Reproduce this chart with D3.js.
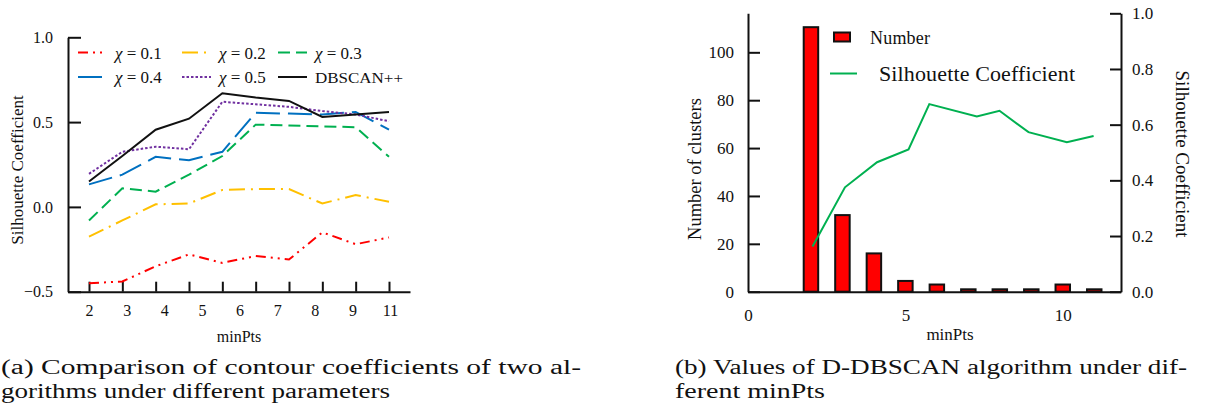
<!DOCTYPE html>
<html>
<head>
<meta charset="utf-8">
<script src="https://cdn.jsdelivr.net/npm/d3@7"></script>
<style>
  html, body { margin: 0; padding: 0; background: #fff; }
  svg { display: block; }
  text { font-family: "Liberation Serif", "Times New Roman", serif; fill: #111; }
</style>
</head>
<body>
<svg id="fig" width="1207" height="416"></svg>
<script>
// ---------- panel (a): silhouette coefficient vs minPts ----------
const minPts = [2, 3, 4, 5, 6, 7, 8, 9, 10, 11];
const minPtsTickLabels = ["2", "3", "4", "5", "6", "7", "8", "9", "11"];
const chi01 = [-0.45, -0.44, -0.35, -0.28, -0.33, -0.29, -0.31, -0.15, -0.22, -0.18];
const chi02 = [-0.175, -0.08, 0.015, 0.02, 0.10, 0.105, 0.105, 0.02, 0.07, 0.03];
const chi03 = [-0.08, 0.11, 0.09, 0.19, 0.30, 0.485, 0.48, 0.475, 0.47, 0.295];
const chi04 = [0.133, 0.19, 0.295, 0.275, 0.325, 0.555, 0.55, 0.545, 0.56, 0.455];
const chi05 = [0.195, 0.325, 0.355, 0.34, 0.62, 0.605, 0.59, 0.565, 0.545, 0.505];
const dbscanPP = [0.15, 0.30, 0.455, 0.52, 0.67, 0.645, 0.625, 0.53, 0.545, 0.56];
const seriesNames = ["\u03c7 = 0.1", "\u03c7 = 0.2", "\u03c7 = 0.3", "\u03c7 = 0.4", "\u03c7 = 0.5", "DBSCAN++"];
const yTicksA = [-0.5, 0.0, 0.5, 1.0];

// ---------- panel (b): D-DBSCAN cluster count and silhouette ----------
const barMinPts = [2, 3, 4, 5, 6, 7, 8, 9, 10, 11];
const clusterCount = [110.5, 32, 16, 4.5, 3, 1, 1, 1, 3, 1];
const silMinPts = [2.05, 3.08, 4.1, 5.1, 5.76, 7.27, 7.99, 8.91, 10.13, 10.98];
const silValue = [0.162, 0.375, 0.465, 0.511, 0.674, 0.629, 0.650, 0.573, 0.537, 0.559];
const yTicksCount = [0, 20, 40, 60, 80, 100];
const yTicksSil = [0.0, 0.2, 0.4, 0.6, 0.8, 1.0];
const xTicksB = [0, 5, 10];

const captionA = ["(a) Comparison of contour coefficients of two al-", "gorithms under different parameters"];
const captionB = ["(b) Values of D-DBSCAN algorithm under dif-", "ferent minPts"];

const svg = d3.select("#fig");
svg.append("rect").attr("width", 1207).attr("height", 416).attr("fill", "#fff");

function styleAxis(g, size) {
  g.select(".domain").attr("stroke", "#111").attr("stroke-width", 2);
  g.selectAll(".tick line").attr("stroke", "#111").attr("stroke-width", 2);
  g.selectAll(".tick text")
    .style("font-family", '"Liberation Serif", serif')
    .style("font-size", size + "px").attr("fill", "#111");
}

// ===== panel (a) =====
const xA = d3.scalePoint().domain(minPts).range([68, 410]).padding(0.63);
const yA = d3.scaleLinear().domain([-0.5, 1.0]).range([291.7, 37.3]);

const gA = svg.append("g");

const yAxisA = gA.append("g").attr("transform", `translate(${xA.range()[0]},0)`)
  .call(d3.axisLeft(yA).tickValues(yTicksA).tickFormat(d3.format(".1f"))
    .tickSizeInner(-13).tickSizeOuter(0).tickPadding(15));
styleAxis(yAxisA, 16);

const xAxisA = gA.append("g").attr("transform", `translate(0,${yA.range()[0]})`)
  .call(d3.axisBottom(xA).tickFormat("").tickSizeInner(-10).tickSizeOuter(0));
styleAxis(xAxisA, 16);

// minPts labels sit on their own evenly spaced positions
const xLabA = d3.scalePoint().domain(minPtsTickLabels).range([89, 390]);
const xLabAxisA = gA.append("g").attr("transform", `translate(0,${yA.range()[0]})`)
  .call(d3.axisBottom(xLabA).tickSize(0).tickPadding(13));
xLabAxisA.select(".domain").remove();
styleAxis(xLabAxisA, 16);

gA.append("text").attr("x", 239).attr("y", 342).attr("text-anchor", "middle")
  .style("font-size", "16px").text("minPts");
gA.append("text").attr("transform", "translate(23,170) rotate(-90)")
  .attr("text-anchor", "middle").style("font-size", "17px").text("Silhouette Coefficient");

const seriesA = [
  { name: seriesNames[0], values: chi01, color: "#FF0000", dash: "10,5,2,5,2,5" },
  { name: seriesNames[1], values: chi02, color: "#FFC000", dash: "16,6,2,6" },
  { name: seriesNames[2], values: chi03, color: "#00B050", dash: "12,6" },
  { name: seriesNames[3], values: chi04, color: "#0070C0", dash: "24,8" },
  { name: seriesNames[4], values: chi05, color: "#7030A0", dash: "2.5,2" },
  { name: seriesNames[5], values: dbscanPP, color: "#111111", dash: null }
];

const lineA = d3.line().x((d, i) => xA(minPts[i])).y(d => yA(d));
gA.selectAll("path.series").data(seriesA).join("path")
  .attr("class", "series")
  .attr("d", s => lineA(s.values))
  .attr("fill", "none")
  .attr("stroke", s => s.color)
  .attr("stroke-width", 2)
  .attr("stroke-dasharray", s => s.dash);

// legend, two rows of three
const legCols = [78, 182, 278];
const legRows = [52.5, 77];
const legA = gA.selectAll("g.leg").data(seriesA).join("g")
  .attr("class", "leg")
  .attr("transform", (s, i) => `translate(${legCols[i % 3]},${legRows[Math.floor(i / 3)]})`);
legA.append("line").attr("x1", 0).attr("x2", 29).attr("y1", 0).attr("y2", 0)
  .attr("stroke", s => s.color).attr("stroke-width", 2)
  .attr("stroke-dasharray", s => s.dash);
legA.each(function (s) {
  const t = d3.select(this).append("text").attr("x", 37).attr("y", 6);
  if (s.name.startsWith("\u03c7")) {
    t.style("font-size", "17px");
    t.append("tspan").style("font-style", "italic").text("\u03c7");
    t.append("tspan").text(s.name.slice(1));
  } else {
    t.style("font-size", "15.5px").attr("textLength", 88).attr("lengthAdjust", "spacingAndGlyphs").text(s.name);
  }
});

// ===== panel (b) =====
const xB = d3.scaleLinear().domain([0, 11.85]).range([748, 1121]);
const yB = d3.scaleLinear().domain([0, 116.3]).range([291.7, 13.3]);
const yS = d3.scaleLinear().domain([0, 1]).range([291.7, 13.3]);

const gB = svg.append("g");

// bars first so the axis line stays on top
const barW = xB(0.46) - xB(0);
gB.selectAll("rect.bar").data(barMinPts).join("rect")
  .attr("class", "bar")
  .attr("x", (d) => xB(d) - barW / 2)
  .attr("width", barW)
  .attr("y", (d, i) => yB(clusterCount[i]))
  .attr("height", (d, i) => yB(0) - yB(clusterCount[i]))
  .attr("fill", "#FF0000").attr("stroke", "#111").attr("stroke-width", 2);

const lineB = d3.line().x((d, i) => xB(silMinPts[i])).y(d => yS(d));
gB.append("path").attr("d", lineB(silValue))
  .attr("fill", "none").attr("stroke", "#00B050").attr("stroke-width", 2);

const yAxisB = gB.append("g").attr("transform", `translate(${xB.range()[0]},0)`)
  .call(d3.axisLeft(yB).tickValues(yTicksCount).tickSizeInner(-12).tickSizeOuter(0).tickPadding(14));
styleAxis(yAxisB, 17);

const ySAxis = gB.append("g").attr("transform", `translate(${xB.range()[1]},0)`)
  .call(d3.axisRight(yS).tickValues(yTicksSil).tickFormat(d3.format(".1f"))
    .tickSizeInner(-11).tickSizeOuter(0).tickPadding(11));
styleAxis(ySAxis, 17);

const xAxisB = gB.append("g").attr("transform", `translate(0,${yB.range()[0]})`)
  .call(d3.axisBottom(xB).tickValues(xTicksB).tickSize(0).tickPadding(17));
styleAxis(xAxisB, 17);

gB.append("text").attr("x", 950).attr("y", 340).attr("text-anchor", "middle")
  .style("font-size", "17px").text("minPts");
gB.append("text").attr("transform", "translate(701,169) rotate(-90)")
  .attr("text-anchor", "middle").style("font-size", "18.5px").text("Number of clusters");
gB.append("text").attr("transform", "translate(1176,154) rotate(90)")
  .attr("text-anchor", "middle").style("font-size", "19px").text("Silhouette Coefficient");

// legend
gB.append("rect").attr("x", 834).attr("y", 32.5).attr("width", 16).attr("height", 9)
  .attr("fill", "#FF0000").attr("stroke", "#111").attr("stroke-width", 2);
gB.append("text").attr("x", 870).attr("y", 43.5).style("font-size", "18px")
  .attr("textLength", 60).attr("lengthAdjust", "spacing").text("Number");
gB.append("line").attr("x1", 830).attr("x2", 857).attr("y1", 73.5).attr("y2", 73.5)
  .attr("stroke", "#00B050").attr("stroke-width", 2);
gB.append("text").attr("x", 879).attr("y", 80.5).style("font-size", "22px")
  .attr("textLength", 196).attr("lengthAdjust", "spacing").text("Silhouette Coefficient");

// ===== captions =====
function caption(lines, x, widths) {
  lines.forEach((ln, i) => {
    svg.append("text").attr("x", x).attr("y", 374 + i * 24)
      .style("font-size", "20px").attr("fill", "#1a1a1a")
      .attr("textLength", widths[i]).attr("lengthAdjust", "spacingAndGlyphs")
      .text(ln);
  });
}
caption(captionA, 1, [580, 389]);
caption(captionB, 675, [512, 150]);
</script>
</body>
</html>
